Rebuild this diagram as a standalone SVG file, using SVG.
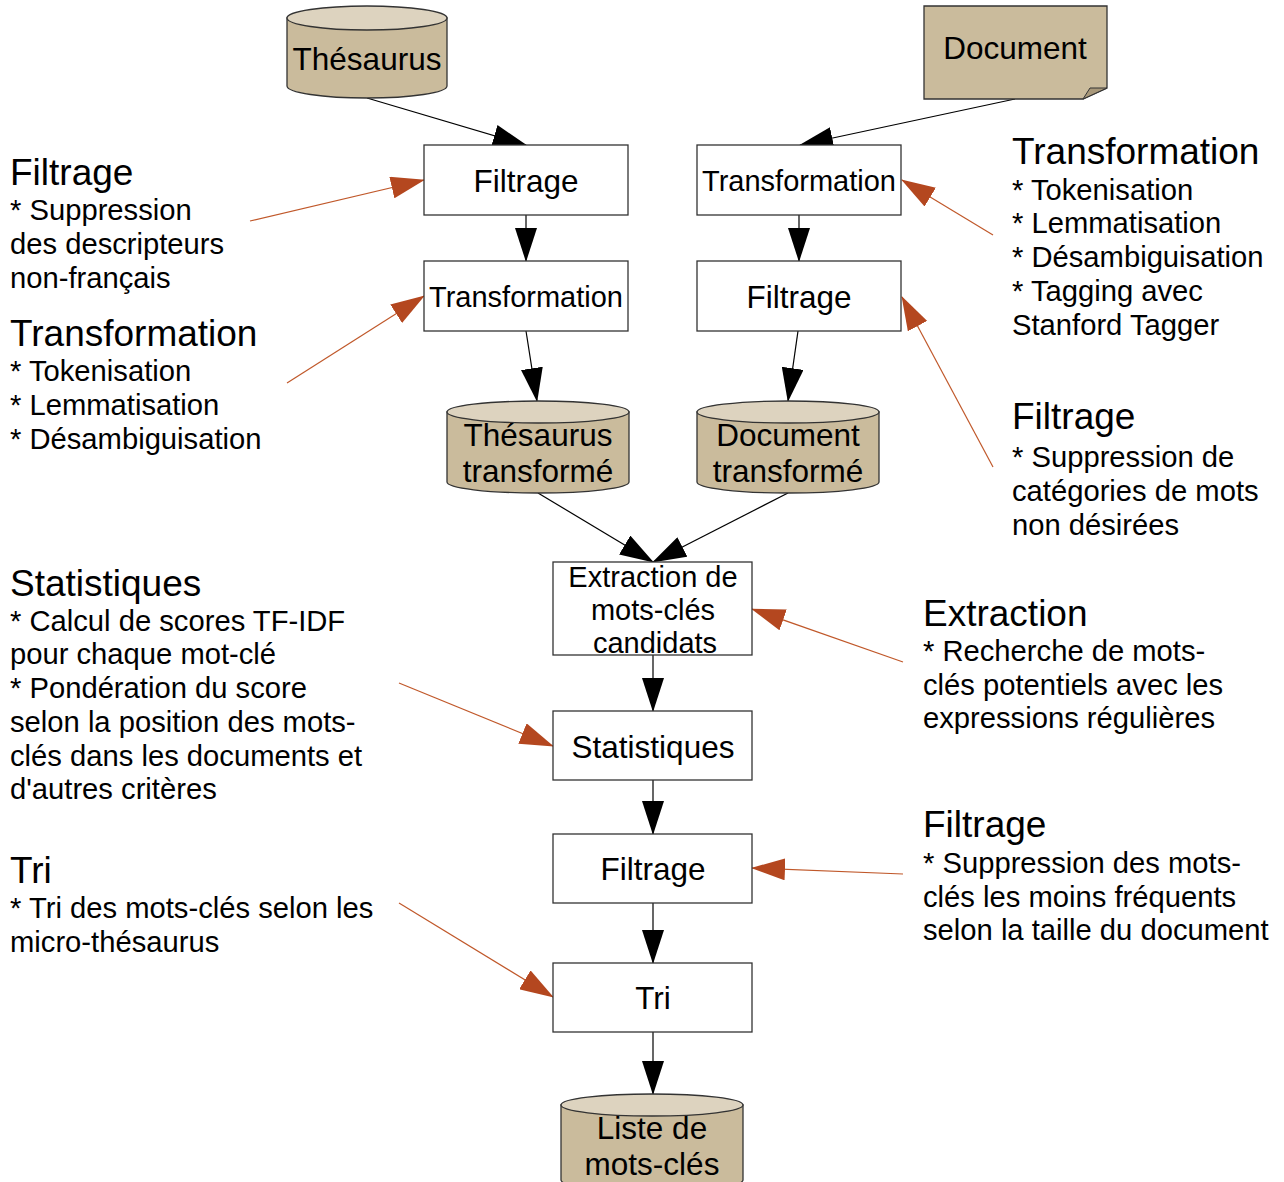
<svg xmlns="http://www.w3.org/2000/svg" width="1284" height="1182" viewBox="0 0 1284 1182">
<defs>
<style>
.bg{fill:#ffffff}
.box{fill:#ffffff;stroke:#333333;stroke-width:1.3}
.cyl{fill:#cabb9c;stroke:#333333;stroke-width:1.3}
.cyltop{fill:#ddd3bf;stroke:#333333;stroke-width:1.3}
.fold{fill:#a8987a;stroke:#333333;stroke-width:1}
.nt{font-family:"Liberation Sans",Arial,sans-serif;font-size:31.5px;fill:#000;text-anchor:middle}
.ns{font-family:"Liberation Sans",Arial,sans-serif;font-size:29px;fill:#000;text-anchor:middle}
.h{font-family:"Liberation Sans",Arial,sans-serif;font-size:37px;fill:#000}
.b{font-family:"Liberation Sans",Arial,sans-serif;font-size:29.2px;fill:#000}
.cb{stroke:#000;stroke-width:1.2;fill:none;marker-end:url(#ab)}
.co{stroke:#c0582a;stroke-width:1.2;fill:none;marker-end:url(#ao)}
</style>
<marker id="ab" markerUnits="userSpaceOnUse" markerWidth="34" markerHeight="22" refX="33" refY="11" orient="auto" viewBox="0 0 34 22">
<path d="M0,0 L34,11 L0,22 Z" fill="#000"/>
</marker>
<marker id="ao" markerUnits="userSpaceOnUse" markerWidth="34" markerHeight="22" refX="33" refY="11" orient="auto" viewBox="0 0 34 22">
<path d="M0,0 L34,11 L0,22 Z" fill="#b4471f"/>
</marker>
</defs>
<rect class="bg" x="0" y="0" width="1284" height="1182"/>

<g id="connectors">
<line class="cb" x1="367" y1="98" x2="526" y2="145"/>
<line class="cb" x1="1015" y1="99" x2="800" y2="145"/>
<line class="cb" x1="526" y1="215" x2="526" y2="261"/>
<line class="cb" x1="799" y1="215" x2="799" y2="261"/>
<line class="cb" x1="526" y1="331" x2="537" y2="401"/>
<line class="cb" x1="798" y1="331" x2="788" y2="401"/>
<line class="cb" x1="538" y1="493" x2="653" y2="562"/>
<line class="cb" x1="788" y1="493" x2="653" y2="562"/>
<line class="cb" x1="653" y1="655" x2="653" y2="711"/>
<line class="cb" x1="653" y1="780" x2="653" y2="834"/>
<line class="cb" x1="653" y1="903" x2="653" y2="963"/>
<line class="cb" x1="653" y1="1032" x2="653" y2="1094"/>
<line class="co" x1="250" y1="221" x2="424" y2="180"/>
<line class="co" x1="287" y1="383" x2="424" y2="296"/>
<line class="co" x1="993" y1="235" x2="902" y2="180"/>
<line class="co" x1="993" y1="467" x2="902" y2="297"/>
<line class="co" x1="903" y1="662" x2="752" y2="609"/>
<line class="co" x1="399" y1="683" x2="553" y2="746"/>
<line class="co" x1="903" y1="874" x2="752" y2="868"/>
<line class="co" x1="399" y1="903" x2="553" y2="997"/>
</g>

<g id="n-thesaurus">
<path class="cyl" d="M287,18 L287,86 A80,12 0 0 0 447,86 L447,18 Z"/>
<ellipse class="cyltop" cx="367" cy="18" rx="80" ry="12"/>
<text class="nt" x="367" y="70">Thésaurus</text>
</g>

<g id="n-document">
<path class="cyl" d="M924,6 H1107 V88 L1083,99 H924 Z"/>
<path class="fold" d="M1083,99 L1090,88 L1107,88 Z"/>
<text class="nt" x="1015" y="59">Document</text>
</g>

<g id="n-filtrage1">
<rect class="box" x="424" y="145" width="204" height="70"/>
<text class="nt" x="526" y="192">Filtrage</text>
</g>

<g id="n-transformation1">
<rect class="box" x="697" y="145" width="204" height="70"/>
<text class="ns" x="799" y="191">Transformation</text>
</g>

<g id="n-transformation2">
<rect class="box" x="424" y="261" width="204" height="70"/>
<text class="ns" x="526" y="307">Transformation</text>
</g>

<g id="n-filtrage2">
<rect class="box" x="697" y="261" width="204" height="70"/>
<text class="nt" x="799" y="308">Filtrage</text>
</g>

<g id="n-thesaurus-transforme">
<path class="cyl" d="M447,412 L447,482 A91,11 0 0 0 629,482 L629,412 Z"/>
<ellipse class="cyltop" cx="538" cy="412" rx="91" ry="11"/>
<text class="nt" x="538" y="446">Thésaurus</text>
<text class="nt" x="538" y="482">transformé</text>
</g>

<g id="n-document-transforme">
<path class="cyl" d="M697,412 L697,482 A91,11 0 0 0 879,482 L879,412 Z"/>
<ellipse class="cyltop" cx="788" cy="412" rx="91" ry="11"/>
<text class="nt" x="788" y="446">Document</text>
<text class="nt" x="788" y="482">transformé</text>
</g>

<g id="n-extraction">
<rect class="box" x="553" y="562" width="199" height="93"/>
<text class="ns" x="653" y="587">Extraction de</text>
<text class="ns" x="653" y="620">mots-clés</text>
<text class="ns" x="655" y="653">candidats</text>
</g>

<g id="n-statistiques">
<rect class="box" x="553" y="711" width="199" height="69"/>
<text class="nt" x="653" y="758">Statistiques</text>
</g>

<g id="n-filtrage3">
<rect class="box" x="553" y="834" width="199" height="69"/>
<text class="nt" x="653" y="880">Filtrage</text>
</g>

<g id="n-tri">
<rect class="box" x="553" y="963" width="199" height="69"/>
<text class="nt" x="653" y="1009">Tri</text>
</g>

<g id="n-liste">
<path class="cyl" d="M561,1105 L561,1180 A91,11 0 0 0 743,1180 L743,1105 Z"/>
<ellipse class="cyltop" cx="652" cy="1105" rx="91" ry="11"/>
<text class="nt" x="652" y="1139">Liste de</text>
<text class="nt" x="652" y="1175">mots-clés</text>
</g>

<g id="annotations">
<text class="h" x="10" y="185">Filtrage</text>
<text class="b" x="10" y="220">* Suppression</text>
<text class="b" x="10" y="254">des descripteurs</text>
<text class="b" x="10" y="288">non-français</text>

<text class="h" x="10" y="346">Transformation</text>
<text class="b" x="10" y="381">* Tokenisation</text>
<text class="b" x="10" y="415">* Lemmatisation</text>
<text class="b" x="10" y="449">* Désambiguisation</text>

<text class="h" x="10" y="596">Statistiques</text>
<text class="b" x="10" y="631">* Calcul de scores TF-IDF</text>
<text class="b" x="10" y="664">pour chaque mot-clé</text>
<text class="b" x="10" y="698">* Pondération du score</text>
<text class="b" x="10" y="732">selon la position des mots-</text>
<text class="b" x="10" y="766">clés dans les documents et</text>
<text class="b" x="10" y="799">d'autres critères</text>

<text class="h" x="10" y="883">Tri</text>
<text class="b" x="10" y="918">* Tri des mots-clés selon les</text>
<text class="b" x="10" y="952">micro-thésaurus</text>

<text class="h" x="1012" y="164">Transformation</text>
<text class="b" x="1012" y="200">* Tokenisation</text>
<text class="b" x="1012" y="233">* Lemmatisation</text>
<text class="b" x="1012" y="267">* Désambiguisation</text>
<text class="b" x="1012" y="301">* Tagging avec</text>
<text class="b" x="1012" y="335">Stanford Tagger</text>

<text class="h" x="1012" y="429">Filtrage</text>
<text class="b" x="1012" y="467">* Suppression de</text>
<text class="b" x="1012" y="501">catégories de mots</text>
<text class="b" x="1012" y="535">non désirées</text>

<text class="h" x="923" y="626">Extraction</text>
<text class="b" x="923" y="661">* Recherche de mots-</text>
<text class="b" x="923" y="695">clés potentiels avec les</text>
<text class="b" x="923" y="728">expressions régulières</text>

<text class="h" x="923" y="837">Filtrage</text>
<text class="b" x="923" y="873">* Suppression des mots-</text>
<text class="b" x="923" y="907">clés les moins fréquents</text>
<text class="b" x="923" y="940">selon la taille du document</text>
</g>
</svg>
